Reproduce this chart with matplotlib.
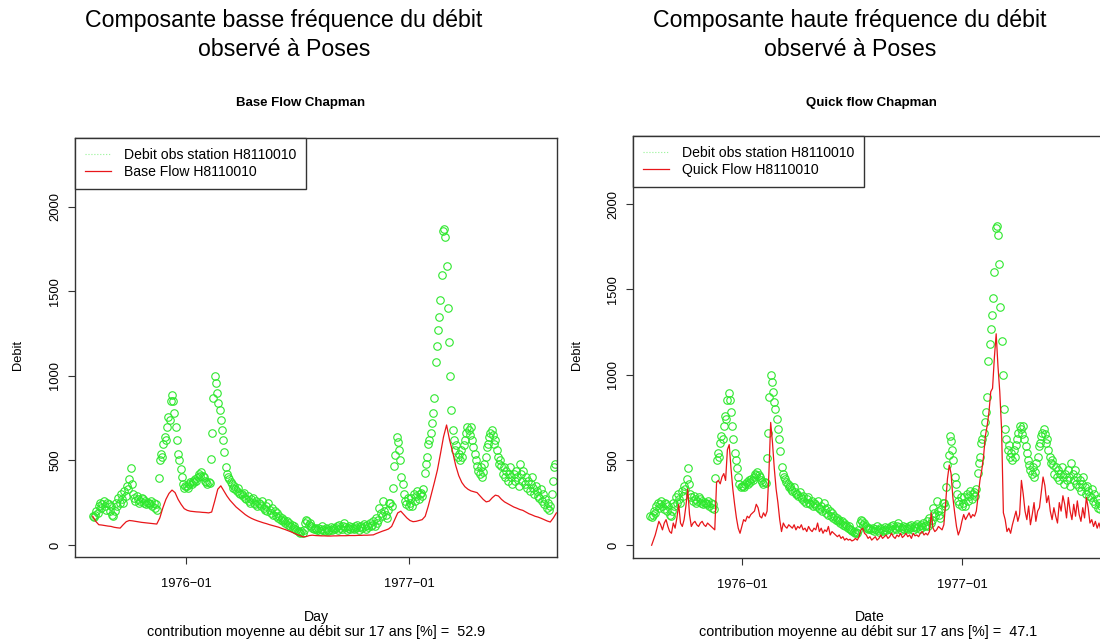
import pandas as pd
import matplotlib
matplotlib.use('Agg')
import matplotlib.pyplot as plt
from matplotlib.lines import Line2D

plt.rcParams['font.family'] = ['Liberation Sans', 'DejaVu Sans']

# observed discharge, one value every 2 days from 1975-08-01
obs_start = '1975-08-01'
obs_flow = [
    170, 165, 180, 200, 190, 230, 250, 220, 240, 260, 230, 210, 250, 240, 200, 230,   # aug 75
    180, 170, 200, 250, 230, 280, 250, 300, 270, 250, 320, 290, 350, 330, 390,        # sep
    455, 360, 300, 280, 260, 290, 270, 250, 260, 280, 270, 250, 260, 240, 250,        # oct
    250, 240, 260, 230, 250, 220, 240, 210, 395, 500, 540, 520, 600, 640, 620,        # nov
    700, 760, 740, 850, 890, 850, 780, 700, 620, 540, 500, 450, 400, 360, 340, 350,   # dec
    350, 340, 360, 370, 360, 380, 370, 390, 380, 400, 420, 410, 430, 410, 400,        # jan 76
    380, 370, 360, 370, 365, 510, 660, 870, 1000, 960, 900, 840, 800, 740, 680,       # feb
    620, 550, 460, 420, 400, 390, 370, 360, 340, 350, 330, 320, 340, 310, 300,        # mar
    300, 290, 310, 280, 270, 290, 260, 250, 270, 280, 250, 240, 260, 230, 250,        # apr
    240, 230, 260, 220, 210, 230, 200, 250, 210, 190, 220, 180, 200, 170, 190, 160,   # may
    170, 150, 160, 140, 150, 130, 140, 120, 130, 110, 120, 100, 110, 95, 90,          # jun
    85, 75, 70, 80, 70, 90, 130, 150, 140, 120, 130, 110, 100, 95, 100,               # jul
    95, 90, 100, 85, 95, 110, 90, 80, 100, 95, 85, 90, 105, 90, 100, 95,              # aug
    100, 110, 90, 120, 100, 95, 110, 130, 105, 90, 100, 115, 95, 105, 100,           # sep
    95, 110, 100, 120, 90, 105, 115, 100, 125, 110, 95, 120, 105, 130, 115,           # oct
    120, 140, 110, 160, 130, 150, 220, 190, 170, 260, 200, 180, 160, 210, 250,        # nov
    250, 230, 340, 470, 530, 640, 610, 560, 500, 400, 360, 300, 260, 240, 280, 230,   # dec
    250, 280, 230, 300, 260, 290, 320, 270, 300, 310, 290, 330, 425, 480, 520,        # jan 77
    600, 620, 660, 720, 780, 870, 1080, 1180, 1270, 1350, 1450, 1600, 1860, 1870,     # feb
    1820, 1650, 1400, 1200, 1000, 800, 680, 620, 560, 590, 520, 540, 500, 560, 520, 590,  # mar
    620, 660, 700, 680, 650, 700, 620, 580, 540, 500, 470, 440, 420, 460, 400,        # apr
    430, 480, 520, 580, 600, 640, 660, 680, 650, 600, 620, 560, 520, 480, 500,        # may
    470, 420, 460, 400, 440, 380, 420, 460, 400, 360, 420, 380, 440, 400, 350,        # jun
    480, 420, 380, 440, 360, 400, 340, 380, 320, 360, 400, 340, 300, 350, 320, 290,   # jul
    280, 330, 260, 300, 240, 270, 220, 250, 210, 230, 300, 380, 460, 480,             # aug
]

# base flow (Chapman filter), one value every 5 days from 1975-08-01
base_start = '1975-08-01'
base_flow = [
    170, 140, 120, 118, 115, 112, 110, 105, 102, 100,
    120, 138, 145, 143, 140, 137, 134, 132, 130, 128,
    126, 124, 160, 220, 270, 305, 325, 310, 270, 240,
    215, 205, 200, 198, 196, 195, 193, 192, 190, 195,
    260, 330, 350, 320, 290, 265, 245, 225, 210, 195,
    180, 168, 158, 150, 143, 137, 131, 126, 120, 115,
    110, 105, 98, 92, 85, 78, 70, 62, 55, 48,
    50, 56, 58, 56, 55, 54, 54, 53, 53, 54,
    54, 55, 55, 55, 56, 56, 56, 57, 57, 58,
    58, 59, 60, 68, 75, 82, 88, 95, 110, 150,
    190, 200, 180, 160, 145, 138, 140, 145, 150, 170,
    230, 300, 370, 444, 540, 640, 710, 620, 550, 470,
    410, 370, 345, 330, 320, 315, 310, 290, 270, 255,
    260, 280, 295, 290, 270, 255, 245, 235, 225, 218,
    210, 205, 195, 185, 178, 170, 165, 158, 150, 142,
    136, 160, 190,
]

# quick flow (Chapman filter), one value every 3 days from 1975-08-03
quick_start = '1975-08-03'
quick_flow = [
    0, 30, 60, 100, 140, 120, 90, 130, 150, 110,
    80, 70, 130, 100, 160, 240, 130, 110, 150, 230,
    330, 180, 110, 130, 140, 120, 110, 130, 140, 120,
    110, 130, 120, 110, 100, 90, 370, 380, 360, 400,
    420, 380, 560, 590, 450, 330, 240, 160, 100, 70,
    110, 150, 140, 170, 160, 180, 190, 200, 240, 220,
    170, 160, 190, 170, 200, 420, 720, 600, 450, 330,
    250, 150, 80, 130, 110, 100, 120, 110, 100, 120,
    90, 110, 100, 120, 90, 100, 80, 110, 90, 80,
    100, 90, 130, 80, 100, 70, 90, 80, 110, 60,
    80, 70, 60, 50, 60, 40, 50, 30, 40, 30,
    35, 25, 30, 40, 30, 50, 90, 100, 70, 60,
    40, 50, 30, 40, 50, 30, 40, 60, 40, 50,
    60, 40, 50, 70, 50, 40, 60, 50, 70, 45,
    55, 70, 50, 60, 40, 70, 55, 60, 50, 70,
    80, 60, 70, 60, 80, 190, 100, 80, 90, 110,
    100, 90, 120, 250, 390, 470, 420, 280, 190, 110,
    60, 90, 140, 180, 150, 170, 190, 160, 180, 170,
    200, 290, 380, 440, 520, 640, 700, 780, 900, 920,
    1100, 1240, 1050, 900, 680, 190, 150, 80, 100, 70,
    120, 160, 200, 140, 180, 380, 300, 200, 150, 230,
    120, 180, 250, 140, 200, 220, 310, 400, 350, 250,
    290, 200, 150, 220, 170, 130, 250, 200, 290, 240,
    160, 280, 200, 150, 240, 170, 260, 180, 140, 220,
    160, 280, 220, 130, 150, 110, 140, 100, 130, 90,
    150, 220, 290,
]

tick_dates = ['1976-01-01', '1977-01-01']
tick_labels = ['1976\u221201', '1977\u221201']
y_ticks = [0, 500, 1000, 1500, 2000]
contrib_base = 52.9
contrib_quick = 47.1

obs_dates = pd.date_range(obs_start, periods=len(obs_flow), freq='2D')
base_dates = pd.date_range(base_start, periods=len(base_flow), freq='5D')
quick_dates = pd.date_range(quick_start, periods=len(quick_flow), freq='3D')

GREEN = '#2ee82e'
RED = '#e8161a'
FS = 9.3

fig = plt.figure(figsize=(11, 6.43), dpi=100)


def draw_panel(rect, ylim, line_dates, line_vals, line_label):
    ax = fig.add_axes(rect)
    ax.plot(obs_dates, obs_flow, linestyle='none', marker='o', mfc='none',
            mec=GREEN, ms=5.4, mew=0.8, zorder=2)
    ax.plot(line_dates, line_vals, color=RED, lw=0.9, zorder=3)
    ax.set_xlim(pd.Timestamp('1975-07-03'), pd.Timestamp('1977-08-31'))
    ax.set_ylim(*ylim)
    ax.set_xticks([pd.Timestamp(d) for d in tick_dates])
    ax.set_xticklabels(tick_labels)
    ax.set_yticks(y_ticks)
    ax.set_yticklabels([str(v) for v in y_ticks], rotation=90, va='center')
    ax.tick_params(axis='both', length=5, width=0.8, color='#333333', labelsize=FS)
    ax.tick_params(axis='x', pad=10)
    ax.tick_params(axis='y', pad=5)
    for s in ax.spines.values():
        s.set_color('#333333')
        s.set_linewidth(1.0)
    handles = [Line2D([], [], color=GREEN, lw=0.8, ls=':', alpha=0.5),
               Line2D([], [], color=RED, lw=0.9)]
    leg = ax.legend(handles, ['Debit obs station H8110010', line_label],
                    loc='upper left', bbox_to_anchor=(0, 1), borderaxespad=0,
                    fancybox=False, framealpha=1, edgecolor='#333333',
                    fontsize=10.1, handlelength=1.9, handletextpad=0.9,
                    labelspacing=0.25, borderpad=0.7)
    leg.get_frame().set_linewidth(1.0)
    return ax


draw_panel([75 / 1100, 86 / 643, 482 / 1100, 419 / 643], (-71, 2408),
           base_dates, base_flow, 'Base Flow H8110010')
draw_panel([633 / 1100, 85 / 643, 475 / 1100, 422 / 643], (-75, 2400),
           quick_dates, quick_flow, 'Quick Flow H8110010')


def ftext(x, y, s, **kw):
    fig.text(x / 1100, 1 - y / 643, s, ha='center', va='center', **kw)


contrib_fmt = 'contribution moyenne au débit sur 17 ans [%] =  {:.1f}'

ftext(284, 35, 'Composante basse fréquence du débit\nobservé à Poses', fontsize=16.7, linespacing=1.3)
ftext(850, 35, 'Composante haute fréquence du débit\nobservé à Poses', fontsize=16.7, linespacing=1.3)
ftext(301, 103, 'Base Flow Chapman', fontsize=FS + 0.2, fontweight='bold')
ftext(871, 103, 'Quick flow Chapman', fontsize=FS + 0.2, fontweight='bold')
ftext(18, 355, 'Debit', fontsize=FS, rotation=90)
ftext(577, 355, 'Debit', fontsize=FS, rotation=90)
ftext(316, 617, 'Day', fontsize=10.1)
ftext(870, 617, 'Date', fontsize=10.1)
ftext(316, 632, contrib_fmt.format(contrib_base), fontsize=10.4)
ftext(868, 632, contrib_fmt.format(contrib_quick), fontsize=10.4)

fig.savefig('out.png', dpi=100)
